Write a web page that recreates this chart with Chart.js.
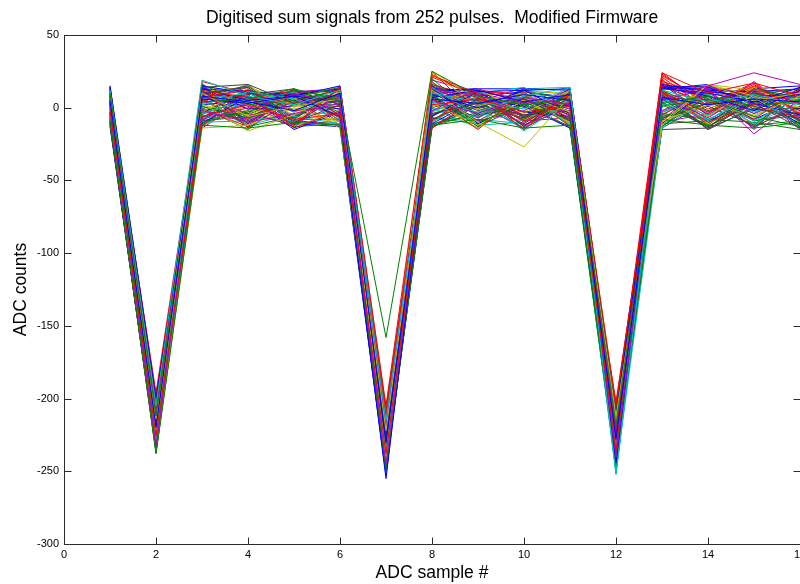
<!DOCTYPE html>
<html>
<head>
<meta charset="utf-8">
<script src="https://cdn.jsdelivr.net/npm/chart.js@4.4.1/dist/chart.umd.min.js"></script>
<style>
  html, body { margin: 0; padding: 0; background: #fff; overflow: hidden; }
  #wrap { width: 830px; height: 584px; position: relative; }
</style>
</head>
<body>
<div id="wrap"><canvas id="c"></canvas></div>
<script>
// ---- data ----
const titleText = 'Digitised sum signals from 252 pulses.  Modified Firmware';
const xLabel = 'ADC sample #';
const yLabel = 'ADC counts';
const samples = [1, 2, 3, 4, 5, 6, 7, 8, 9, 10, 11, 12, 13, 14, 15, 16];
const xTicks = [0, 2, 4, 6, 8, 10, 12, 14, 16];
const yTicks = [-300, -250, -200, -150, -100, -50, 0, 50];

const p01 = [5, -220, 8, 4, -2, 10, -230, 6, 3, 9, 5, -228, 7, 2, 6, 4];
const p02 = [10, -212, 4, 6, 13, 5, -158, 25, 8, 2, 6, -218, 3, 8, 1, 5];
const p03 = [-3, -226, -6, 2, -8, -4, -238, 2, 6, -3, 1, -235, 24, 10, 17, 8];
const p04 = [12, -205, 19, 8, 2, 12, -215, 10, 4, -1, 14, -252, 12, 4, 9, 2];
const p05 = [0, -232, -2, -10, -4, 3, -245, 5, -4, 7, 2, -240, 6, 15, 24, 16];
const p06 = [7, -214, 10, -6, 1, 6, -222, 12, -10, -27, 8, -212, -10, 16, 5, 10];
const p07 = [2, -218, 14, 16, 3, 9, -228, -4, 3, 6, -5, -226, 9, -15, 0, -8];
const p08 = [15, -200, 6, 3, 8, -6, -255, 7, 12, 4, 9, -244, 14, 8, -2, 12];
const p09 = [-8, -238, -12, -14, -10, -12, -248, -12, -8, -14, -12, -246, -8, -12, -14, -10];
const p10 = [9, -196, 12, 7, -12, 14, -205, 22, 10, -15, 11, -205, 15, 2, 16, -4];
const p11 = [-5, -228, 2, 11, 6, -8, -236, 14, -6, 10, -12, -232, 3, -8, 7, -12];
const p12 = [4, -210, -8, 0, 9, 4, -218, -2, 13, 3, 6, -224, -5, 12, -18, 6];
const p13 = [11, -222, 3, -16, -5, 11, -240, 24, 1, 9, -3, -216, -12, 16, 8, 0];
const p14 = [-10, -234, 10, 14, -10, 2, -250, -8, 5, -6, 3, -238, 4, -14, 11, -9];
const p15 = [6, -215, 13, 5, 8, 15, -225, 9, 0, 12, 13, -210, 13, 10, 4, 14];
const p16 = [-2, -225, -10, -3, 12, 7, -232, 8, -10, 2, -8, -242, 1, 6, -6, -13];
const p17 = [13, -208, 7, 12, -2, 1, -212, -14, 7, -9, 4, -220, 11, -4, 13, 3];
const p18 = [1, -230, -4, 6, -6, -11, -242, 4, -3, 8, 14, -248, -3, 9, -9, 7];
const p19 = [8, -218, 11, -9, 4, 8, -226, 11, 9, -12, 0, -230, 8, -7, 12, -2];
const p20 = [-6, -236, -14, -12, 0, -10, -244, 3, -12, 5, -10, -236, -9, 2, -5, 8];
const p21 = [3, -204, 9, 15, -8, 13, -218, 13, -5, 0, 7, -214, 6, -13, 3, -14];
const p22 = [14, -212, 15, 10, 8, 4, -231, -6, 11, 12, -4, -226, 16, 11, 8, 9];
const p23 = [-4, -227, 1, -7, 7, 14, -239, 16, 3, -8, 10, -244, -6, 3, 10, -6];
const p24 = [7, -198, 5, 9, -14, -2, -207, 7, -15, 11, -13, -202, 10, -10, 2, 11];
const p25 = [-9, -233, -8, 4, 11, -6, -249, -10, 8, -16, 5, -250, -14, 7, -11, 4];
const p26 = [10, -216, 8, -4, -12, 10, -221, 18, -7, 13, -6, -219, 5, 13, -15, 15];
const p27 = [-1, -224, -3, 13, 2, -14, -235, 1, 13, -4, 12, -228, 2, -6, 14, -3];
const p28 = [12, -209, 12, -11, 9, 5, -213, 10, -2, 6, -9, -223, 7, 5, -13, 1];
const p29 = [-7, -231, -11, 8, -15, -3, -246, -11, 6, 1, -14, -237, -11, 12, 6, -11];
const p30 = [5, -219, 16, 2, 5, 12, -229, 9, -13, 7, 2, -209, 12, -2, 9, 13];
const p31 = [0, -221, -1, -13, 10, -7, -234, 12, 4, -11, 9, -233, 22, 4, 1, -7];
const p32 = [9, -207, 6, 10, -3, 8, -210, -3, 10, 14, -1, -252, 9, -9, 12, 5];
const p33 = [-3, -229, 4, 5, -9, -12, -241, 6, -9, -2, 13, -241, -2, 8, -4, 9];
const p34 = [15, -202, 2, -5, 6, 15, -219, 25, 5, 10, -11, -215, 13, -11, 7, -1];
const p35 = [-11, -237, -7, 9, 13, -9, -247, -13, 1, -7, 6, -243, -7, 1, -12, 12];
const p36 = [4, -213, 14, -1, 1, 6, -223, 15, -11, 4, 1, -222, 15, 14, 3, -5];
const p37 = [11, -217, -5, 12, -7, 11, -233, 0, 9, -13, 11, -227, 3, -12, 13, 7];
const p38 = [-5, -223, 9, -8, 12, -5, -237, -9, 12, 9, -7, -231, 17, 6, -8, 14];
const p39 = [6, -211, -13, 7, -1, 1, -216, 8, -4, -9, 3, -239, 6, -5, 10, -10];
const p40 = [2, -226, 7, 1, -11, 9, -239, 13, 7, 6, -9, -225, -8, 15, 2, 3];
const p41 = [-8, -232, 11, 14, 4, -13, -243, 4, -14, 11, 10, -233, -11, 9, -7, 10];
const p42 = [13, -203, 1, -10, 7, 3, -209, -12, 2, -5, -2, -218, 11, -15, 5, -12];
const p43 = [8, -214, 13, 11, 9, 13, -227, 11, 13, 13, 12, -221, 14, 12, 11, 13];
const p44 = [-6, -230, -9, -2, -13, -11, -244, -7, -11, 3, -14, -247, -4, -8, -10, -15];
const p45 = [14, -206, 10, 6, 3, 7, -214, 23, 6, -6, 8, -207, 24, 1, 15, 2];
const p46 = [-2, -235, 17, -12, -4, -4, -251, 2, -7, 8, -11, -249, 1, 10, -3, 6];
const p47 = [7, -220, -6, 3, 10, 12, -224, 7, 11, -10, 7, -229, 10, -3, 9, -8];
const p48 = [1, -228, 5, 16, -6, -8, -236, 14, -1, 1, -4, -234, -6, 16, 12, 11];
const p49 = [-12, -222, 8, -6, 2, 2, -232, -5, 8, -12, 4, -226, -15, -14, -1, -4];
const p50 = [3, -219, -9, 12, 5, -1, -229, 3, 10, -3, -6, -221, 8, -9, 4, 9];
const p51 = [-9, -233, 6, -13, -6, 10, -241, 20, -6, 12, 5, -238, -13, 11, -9, -5];
const p52 = [12, -207, -12, 5, 12, -9, -217, -10, 11, 6, -8, -213, 19, -3, 14, -10];
const p53 = [6, -224, 11, -7, -9, 6, -233, 9, -12, -10, 12, -245, 4, 6, -13, 12];
const p54 = [-4, -214, 3, 9, 11, 13, -220, 15, 4, 14, -13, -217, -9, 14, 9, -2];
const p55 = [10, -229, -11, 2, -13, -2, -238, -4, 7, -8, 9, -230, 11, -6, 15, 5];
const p56 = [0, -210, 15, -14, 6, 9, -244, 11, -9, 8, -1, -239, -13, 8, -14, 14];
const p57 = [-10, -236, -4, 13, -11, -13, -252, 13, 12, -13, 10, -250, 14, 13, 9, -9];
const p58 = [8, -205, 9, -5, 10, 4, -212, -13, -3, 4, -10, -207, 2, -13, 7, 7];
const p59 = [2, -221, 18, 10, -3, 12, -226, 21, 9, -5, 2, -224, 21, -1, 12, -13];
const p60 = [-6, -231, -10, -9, 8, -7, -238, 0, -14, 10, -5, -242, -12, 10, -6, 10];
const p61 = [14, -199, 5, 14, -14, 15, -208, 10, 2, -14, 13, -211, 9, -11, 11, -7];
const p62 = [-2, -225, 12, -3, 3, -12, -234, -9, 10, 7, -12, -227, -4, 11, -12, 15];
const p63 = [9, -216, -8, 7, -6, 7, -219, 6, -7, 11, 6, -220, 12, -8, 6, -11];
const p64 = [-13, -234, 16, -11, 12, 2, -247, 12, 13, -7, 13, -246, 15, 9, -8, 6];
const p65 = [4, -213, -13, 11, -12, 14, -228, -11, -5, 6, -11, -223, -7, 3, 13, -14];
const p66 = [11, -209, 7, -12, 9, -10, -215, 16, 7, -12, 3, -208, 20, -13, 4, 12];
const p67 = [-1, -227, 4, 15, -2, 5, -231, 5, -12, 13, 14, -236, 5, 13, -2, 0];
const p68 = [7, -222, -3, -8, 6, -14, -240, -6, 12, -9, -7, -232, -10, -4, 18, -6];
const p69 = [-7, -230, 13, 4, -11, 11, -246, 17, 3, 9, 8, -241, 9, 7, -11, 8];
const p70 = [13, -206, -6, -4, 13, -5, -211, 8, -13, 2, -13, -214, 13, 15, 8, -1];
const p71 = [5, -218, 10, 12, -7, 8, -236, 14, 8, 11, 7, -229, 16, -5, 13, 15];
const p72 = [-11, -235, 0, -15, 8, -3, -243, -14, 5, -14, 2, -245, -5, 12, -12, -9];
const p73 = [8, -211, -14, 6, 4, 13, -224, 3, 11, 9, -10, -218, 18, 9, 10, 5];
const p74 = [1, -223, 14, -10, 11, -12, -248, -7, -8, -11, 11, -251, 7, -10, 5, 11];
const p75 = [-5, -217, 8, 8, -5, 6, -226, 19, 10, 3, -3, -226, -3, 6, -9, -3];
const p76 = [12, -201, -7, 13, -10, 14, -206, 6, -11, 12, 9, -204, 12, -12, 11, -12];
const p77 = [-3, -228, 12, -7, 4, -1, -242, -2, 7, -8, 5, -235, -14, 4, 14, 4];
const p78 = [10, -215, 2, 5, 11, 11, -222, 10, -4, 10, -8, -221, 13, 16, -1, 13];
const p79 = [-8, -237, -12, 11, -8, -8, -253, 9, 13, -6, 12, -248, 10, -11, 8, -12];
const p80 = [6, -212, 11, -1, 7, 4, -217, 25, -6, 5, -4, -213, 23, 3, 17, -5];
const p81 = [-4, -226, 5, 16, -13, 10, -235, -5, 4, -15, 7, -240, -2, 13, -4, 9];
const p82 = [3, -219, -9, -6, 5, -6, -230, 15, -13, 8, -12, -223, 11, -6, 10, -15];
const p83 = [15, -203, 15, 9, 9, 12, -213, 4, 12, -3, 13, -210, 6, 12, -13, 3];
const p84 = [-9, -231, -2, 3, -9, -11, -239, 12, -1, 13, 1, -237, -11, -9, 3, 10];

const pulses = [p01,p02,p03,p04,p05,p06,p07,p08,p09,p10,p11,p12,p13,p14,p15,p16,p17,p18,p19,p20,
  p21,p22,p23,p24,p25,p26,p27,p28,p29,p30,p31,p32,p33,p34,p35,p36,p37,p38,p39,p40,
  p41,p42,p43,p44,p45,p46,p47,p48,p49,p50,p51,p52,p53,p54,p55,p56,p57,p58,p59,p60,
  p61,p62,p63,p64,p65,p66,p67,p68,p69,p70,p71,p72,p73,p74,p75,p76,p77,p78,p79,p80,
  p81,p82,p83,p84];

// MATLAB classic colour order
const colorOrder = ['#0000ff', '#008000', '#ff0000', '#00bfbf', '#bf00bf', '#bfbf00', '#404040'];

const FONT = "'Liberation Sans', Arial, Helvetica, sans-serif";

const datasets = pulses.map((vals, i) => ({
  label: 'pulse ' + (i + 1),
  data: vals.map((v, k) => ({ x: samples[k], y: v })),
  borderColor: colorOrder[i % colorOrder.length],
  borderWidth: 1,
  pointRadius: 0,
  fill: false,
  tension: 0
}));

const axisBox = {
  id: 'axisBox',
  afterDatasetsDraw(chart) {
    const { ctx, chartArea: a, scales } = chart;
    const xs = scales.x, ys = scales.y;
    const tl = 7;
    ctx.save();
    ctx.strokeStyle = '#2b2b2b';
    ctx.lineWidth = 1;
    ctx.beginPath();
    const L = Math.round(a.left) + 0.5, R = Math.round(a.right) + 0.5;
    const T = Math.round(a.top) + 0.5, B = Math.round(a.bottom) + 0.5;
    ctx.moveTo(L, T); ctx.lineTo(R, T); ctx.lineTo(R, B); ctx.lineTo(L, B); ctx.closePath();
    xTicks.forEach(v => {
      const px = Math.round(xs.getPixelForValue(v)) + 0.5;
      ctx.moveTo(px, B); ctx.lineTo(px, B - tl);
      ctx.moveTo(px, T); ctx.lineTo(px, T + tl);
    });
    yTicks.forEach(v => {
      const py = Math.round(ys.getPixelForValue(v)) + 0.5;
      ctx.moveTo(L, py); ctx.lineTo(L + tl, py);
      ctx.moveTo(R, py); ctx.lineTo(R - tl, py);
    });
    ctx.stroke();
    ctx.restore();
  }
};

new Chart(document.getElementById('c'), {
  type: 'line',
  data: { datasets },
  plugins: [axisBox],
  options: {
    responsive: true,
    maintainAspectRatio: false,
    animation: false,
    layout: { padding: { left: 0, right: 30, top: 0, bottom: 0 } },
    plugins: {
      legend: { display: false },
      tooltip: { enabled: false },
      title: {
        display: true,
        text: titleText,
        fullSize: false,
        color: '#000',
        font: { family: FONT, size: 17.5, weight: 'normal' },
        padding: { top: 8, bottom: 6 }
      }
    },
    scales: {
      x: {
        type: 'linear',
        min: 0, max: 16,
        afterFit: s => { s.height = 40; },
        afterBuildTicks: s => { s.ticks = xTicks.map(v => ({ value: v })); },
        grid: { display: false, drawTicks: false },
        border: { display: false },
        ticks: { color: '#000', font: { family: FONT, size: 11 }, padding: 4, maxRotation: 0, autoSkip: false },
        title: { display: true, text: xLabel, color: '#000', font: { family: FONT, size: 17.5 }, padding: { top: 0, bottom: 0 } }
      },
      y: {
        type: 'linear',
        min: -300, max: 50,
        afterFit: s => { s.width = 64; },
        afterBuildTicks: s => { s.ticks = yTicks.map(v => ({ value: v })); },
        grid: { display: false, drawTicks: false },
        border: { display: false },
        ticks: { color: '#000', font: { family: FONT, size: 11 }, padding: 5, autoSkip: false },
        title: { display: true, text: yLabel, color: '#000', font: { family: FONT, size: 17.5 }, padding: { top: 11, bottom: 0 } }
      }
    }
  }
});
</script>
</body>
</html>
